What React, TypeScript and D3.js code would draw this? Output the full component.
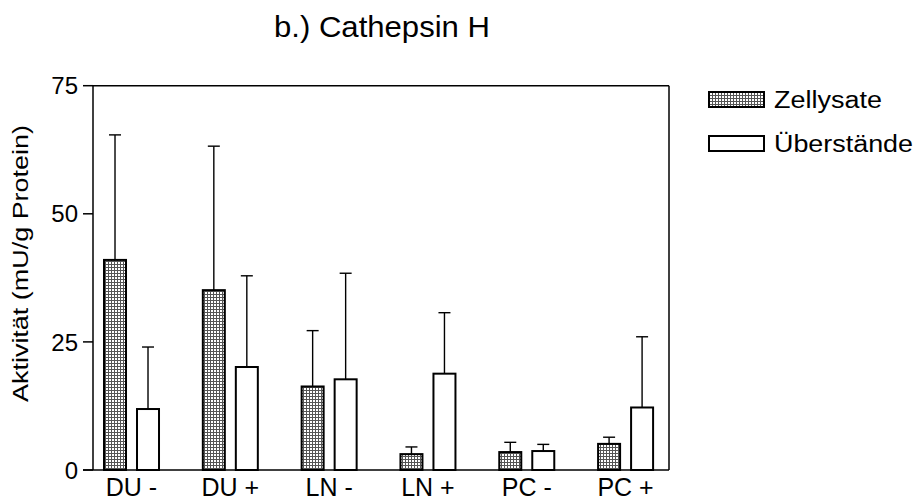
import React from "react";
import * as d3 from "d3";

// Cathepsin H activity per sample group (mean and SD, mU/g protein)
const categories = ["DU -", "DU +", "LN -", "LN +", "PC -", "PC +"];
const seriesNames = ["Zellysate", "Überstände"];
const zellysateMean = [41.0, 35.1, 16.3, 3.1, 3.5, 5.1];
const zellysateSD = [24.4, 28.1, 10.9, 1.4, 1.9, 1.3];
const ueberstaendeMean = [11.9, 20.1, 17.7, 18.8, 3.7, 12.2];
const ueberstaendeSD = [12.1, 17.8, 20.7, 11.9, 1.3, 13.8];
const yTicks = [0, 25, 50, 75];

const W = 921;
const H = 502;
const FONT = "'Liberation Sans', Arial, Helvetica, sans-serif";

export default function App() {
  const plotLeft = 93;
  const plotRight = 669;
  const plotTop = 85.7;
  const plotBottom = 470;

  const x = d3.scaleBand<string>().domain(categories).range([82.1, 675]).padding(0);
  const y = d3.scaleLinear().domain([0, 75]).range([plotBottom, plotTop]);

  const barW = 22;
  const gap = 11;
  const capW = 12;

  const series = [
    { name: seriesNames[0], mean: zellysateMean, sd: zellysateSD, fill: "url(#dots)", offset: -(gap / 2 + barW), labelLen: 108 },
    { name: seriesNames[1], mean: ueberstaendeMean, sd: ueberstaendeSD, fill: "#fff", offset: gap / 2, labelLen: 139 },
  ];

  return (
    <svg
      width={W}
      height={H}
      style={{ position: "absolute", left: 0, top: 0, background: "#fff" }}
      fontFamily={FONT}
    >
      <defs>
        <pattern id="dots" width={3} height={3} patternUnits="userSpaceOnUse">
          <rect width={3} height={3} fill="#fff" />
          <rect width={3} height={1} fill="#555" />
          <rect width={1} height={3} fill="#555" />
        </pattern>
      </defs>

      {/* title */}
      <text x={274} y={37} fontSize={29} fill="#000" textLength={216} lengthAdjust="spacingAndGlyphs">
        b.) Cathepsin H
      </text>

      {/* error bars (upper only) */}
      {series.map((s) =>
        categories.map((c, i) => {
          const cx = (x(c) as number) + x.bandwidth() / 2 + s.offset + barW / 2;
          const yTop = y(s.mean[i] + s.sd[i]);
          return (
            <g key={`e-${s.name}-${c}`} stroke="#000" strokeWidth={1.4}>
              <line x1={cx} x2={cx} y1={y(s.mean[i])} y2={yTop} />
              <line x1={cx - capW / 2} x2={cx + capW / 2} y1={yTop} y2={yTop} />
            </g>
          );
        })
      )}

      {/* bars */}
      {series.map((s) =>
        categories.map((c, i) => {
          const bx = (x(c) as number) + x.bandwidth() / 2 + s.offset;
          return (
            <rect
              key={`b-${s.name}-${c}`}
              x={bx}
              y={y(s.mean[i])}
              width={barW}
              height={plotBottom - y(s.mean[i])}
              fill={s.fill}
              stroke="#000"
              strokeWidth={2}
            />
          );
        })
      )}

      {/* frame */}
      <g stroke="#000" strokeWidth={1.5} fill="none">
        <line x1={plotLeft} x2={plotRight} y1={plotTop} y2={plotTop} />
        <line x1={plotRight} x2={plotRight} y1={plotTop} y2={plotBottom} />
        <line x1={plotLeft} x2={plotLeft} y1={plotTop} y2={plotBottom} />
        <line x1={plotLeft - 10} x2={plotRight} y1={plotBottom} y2={plotBottom} />
      </g>

      {/* y axis ticks */}
      {yTicks.map((t) => (
        <g key={`t-${t}`}>
          <line x1={plotLeft - 10} x2={plotLeft} y1={y(t)} y2={y(t)} stroke="#000" strokeWidth={1.5} />
          <text x={78} y={y(t)} dy="0.36em" textAnchor="end" fontSize={24} fill="#000">
            {t}
          </text>
        </g>
      ))}

      {/* y axis label */}
      <text
        transform={`translate(28, 402) rotate(-90)`}
        fontSize={22}
        fill="#000"
        textLength={277}
        lengthAdjust="spacingAndGlyphs"
      >
        Aktivität (mU/g Protein)
      </text>

      {/* x axis labels */}
      {categories.map((c) => (
        <text
          key={`x-${c}`}
          x={(x(c) as number) + x.bandwidth() / 2}
          y={496}
          textAnchor="middle"
          fontSize={25}
          fill="#000"
        >
          {c}
        </text>
      ))}

      {/* legend */}
      {series.map((s, i) => (
        <g key={`l-${s.name}`} transform={`translate(709, ${92 + i * 44})`}>
          <rect width={55} height={15} fill={s.fill} stroke="#000" strokeWidth={2} />
          <text x={65} y={15.5} fontSize={23} fill="#000" textLength={s.labelLen} lengthAdjust="spacingAndGlyphs">
            {s.name}
          </text>
        </g>
      ))}
    </svg>
  );
}
